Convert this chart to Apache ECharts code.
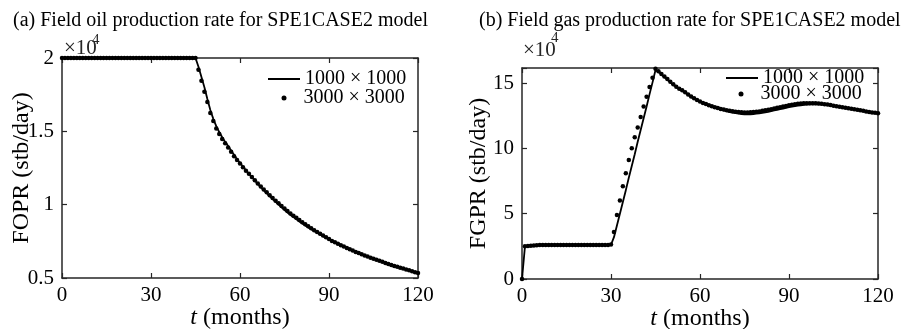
<!DOCTYPE html>
<html>
<head>
<meta charset="utf-8">
<script src="https://cdn.jsdelivr.net/npm/echarts@6/dist/echarts.min.js"></script>
<style>
  html, body { margin: 0; padding: 0; background: #fff; }
  #chart { width: 908px; height: 329px; }
</style>
</head>
<body>
<div id="chart"></div>
<script>
// monthly samples, t = 0..120 months, values in units of 1e4
const T_STEP = 1;
const xTicks = [0, 30, 60, 90, 120];
const seriesNames = ['1000 \u00d7 1000', '3000 \u00d7 3000'];

const fopr1000 = [
  2, 2, 2, 2, 2, 2, 2, 2, 2, 2, 2, 2, 2, 2, 2, 2, 2, 2, 2, 2,
  2, 2, 2, 2, 2, 2, 2, 2, 2, 2, 2, 2, 2, 2, 2, 2, 2, 2, 2, 2,
  2, 2, 2, 2, 2, 2, 1.94, 1.87, 1.80, 1.72, 1.645, 1.585, 1.535, 1.495, 1.46, 1.428,
  1.40, 1.37, 1.34, 1.31, 1.285, 1.26, 1.235, 1.21, 1.187, 1.164, 1.142, 1.12, 1.099, 1.078,
  1.058, 1.038, 1.019, 1.0, 0.982, 0.964, 0.947, 0.93, 0.915, 0.9, 0.886, 0.872, 0.858, 0.845,
  0.832, 0.82, 0.808, 0.796, 0.785, 0.774, 0.763, 0.753, 0.743, 0.733, 0.723, 0.714, 0.705, 0.696,
  0.687, 0.678, 0.67, 0.662, 0.654, 0.646, 0.638, 0.631, 0.624, 0.617, 0.61, 0.603, 0.596, 0.589,
  0.582, 0.576, 0.57, 0.564, 0.558, 0.552, 0.546, 0.54, 0.534
];

const fopr3000 = [
  2, 2, 2, 2, 2, 2, 2, 2, 2, 2, 2, 2, 2, 2, 2, 2, 2, 2, 2, 2,
  2, 2, 2, 2, 2, 2, 2, 2, 2, 2, 2, 2, 2, 2, 2, 2, 2, 2, 2, 2,
  2, 2, 2, 2, 2, 2, 1.92, 1.845, 1.77, 1.70, 1.625, 1.57, 1.52, 1.482, 1.448, 1.418,
  1.39, 1.36, 1.33, 1.305, 1.28, 1.255, 1.232, 1.21, 1.188, 1.166, 1.145, 1.124, 1.104, 1.084,
  1.065, 1.046, 1.027, 1.009, 0.991, 0.974, 0.957, 0.94, 0.925, 0.91, 0.895, 0.88, 0.866, 0.852,
  0.839, 0.826, 0.814, 0.802, 0.79, 0.778, 0.766, 0.753, 0.743, 0.733, 0.723, 0.714, 0.705, 0.696,
  0.687, 0.678, 0.67, 0.662, 0.654, 0.646, 0.638, 0.631, 0.624, 0.617, 0.61, 0.603, 0.596, 0.589,
  0.582, 0.576, 0.57, 0.564, 0.558, 0.552, 0.546, 0.54, 0.534
];

const fgpr1000 = [
  0, 2.5, 2.52, 2.54, 2.56, 2.58, 2.6, 2.6, 2.6, 2.6, 2.6, 2.6, 2.6, 2.6, 2.6, 2.6, 2.6, 2.6, 2.6, 2.6,
  2.6, 2.6, 2.6, 2.6, 2.6, 2.6, 2.6, 2.6, 2.6, 2.6, 2.62, 3.2, 4.1, 5.0, 5.9, 6.8, 7.75, 8.65, 9.55, 10.5,
  11.4, 12.3, 13.2, 14.15, 15.05, 16.0, 15.85, 15.65, 15.45, 15.25, 15.05, 14.85, 14.7, 14.55, 14.45, 14.3, 14.1, 13.95, 13.8, 13.68,
  13.57, 13.46, 13.36, 13.27, 13.18, 13.1, 13.03, 12.96, 12.9, 12.84, 12.78, 12.73, 12.69, 12.65, 12.62, 12.6, 12.6, 12.61, 12.63, 12.65,
  12.68, 12.72, 12.76, 12.8, 12.85, 12.9, 12.95, 13.0, 13.05, 13.1, 13.15, 13.19, 13.23, 13.27, 13.3, 13.32, 13.34, 13.36, 13.37, 13.37,
  13.37, 13.36, 13.34, 13.31, 13.28, 13.25, 13.21, 13.17, 13.13, 13.09, 13.05, 13.01, 12.97, 12.93, 12.89, 12.85, 12.81, 12.77, 12.74, 12.71,
  12.68
];

const fgpr3000 = [
  0, 2.5, 2.52, 2.54, 2.56, 2.58, 2.6, 2.6, 2.6, 2.6, 2.6, 2.6, 2.6, 2.6, 2.6, 2.6, 2.6, 2.6, 2.6, 2.6,
  2.6, 2.6, 2.6, 2.6, 2.6, 2.6, 2.6, 2.6, 2.6, 2.6, 2.65, 3.6, 4.9, 6.0, 7.1, 8.1, 9.1, 10.0, 10.85, 11.6,
  12.4, 13.2, 13.95, 14.7, 15.4, 16.1, 15.9, 15.7, 15.5, 15.3, 15.1, 14.9, 14.72, 14.56, 14.45, 14.3, 14.12, 13.97, 13.83, 13.7,
  13.58, 13.48, 13.39, 13.3, 13.22, 13.15, 13.08, 13.02, 12.97, 12.92, 12.88, 12.84, 12.81, 12.78, 12.76, 12.75, 12.75, 12.76, 12.78, 12.8,
  12.83, 12.87, 12.91, 12.95, 13.0, 13.05, 13.1, 13.15, 13.2, 13.25, 13.3, 13.34, 13.38, 13.41, 13.43, 13.45, 13.46, 13.46, 13.46, 13.45,
  13.43, 13.41, 13.38, 13.35, 13.31, 13.27, 13.23, 13.19, 13.15, 13.11, 13.07, 13.03, 12.99, 12.95, 12.91, 12.87, 12.83, 12.79, 12.75, 12.72,
  12.69
];

const FONT = '"Liberation Serif", "Times New Roman", serif';
const INK = '#262626';

const toPairs = (vals) => vals.map((v, i) => [i * T_STEP, v]);

const boxLine = { onZero: false, lineStyle: { color: INK, width: 1.5 } };
const boxTick = { inside: true, length: 5, lineStyle: { color: INK, width: 1.2 } };

const xAxisPair = (gridIndex) => [
  {
    gridIndex,
    type: 'value',
    position: 'bottom',
    min: xTicks[0],
    max: xTicks[xTicks.length - 1],
    interval: 30,
    name: '{i|t} (months)',
    nameLocation: 'middle',
    nameGap: 28,
    nameMoveOverlap: false,
    nameTextStyle: {
      fontFamily: FONT,
      fontSize: 24,
      color: '#000',
      rich: { i: { fontFamily: FONT, fontSize: 24, fontStyle: 'italic', color: '#000' } }
    },
    axisLine: boxLine,
    axisTick: boxTick,
    axisLabel: { fontFamily: FONT, fontSize: 21, color: '#000', margin: 7 },
    splitLine: { show: false }
  },
  {
    gridIndex,
    type: 'value',
    position: 'top',
    min: xTicks[0],
    max: xTicks[xTicks.length - 1],
    interval: 30,
    axisLine: boxLine,
    axisTick: boxTick,
    axisLabel: { show: false },
    splitLine: { show: false }
  }
];

const yAxisPair = (gridIndex, min, max, interval, name, gap) => [
  {
    gridIndex,
    type: 'value',
    position: 'left',
    min,
    max,
    interval,
    name,
    nameLocation: 'middle',
    nameGap: gap,
    nameMoveOverlap: false,
    nameTextStyle: { fontFamily: FONT, fontSize: 24, color: '#000' },
    axisLine: boxLine,
    axisTick: boxTick,
    axisLabel: {
      fontFamily: FONT,
      fontSize: 21,
      color: '#000',
      margin: 8,
      formatter: (v) => (Math.abs(v / interval - Math.round(v / interval)) < 1e-6 ? String(v) : '')
    },
    splitLine: { show: false }
  },
  {
    gridIndex,
    type: 'value',
    position: 'right',
    min,
    max,
    interval,
    axisLine: boxLine,
    axisTick: boxTick,
    axisLabel: { show: false },
    splitLine: { show: false }
  }
];

// one legend per row; dot rows use a small icon and pad the text to line up
const legendRow = (name, left, top, isLine) => ({
  data: [isLine ? { name, icon: 'rect' } : { name, icon: 'circle' }],
  left,
  top,
  padding: 0,
  orient: 'horizontal',
  itemWidth: isLine ? 32 : 5,
  itemHeight: isLine ? 2 : 5,
  itemGap: 0,
  selectedMode: false,
  textStyle: { fontFamily: FONT, fontSize: 20, color: '#000', padding: isLine ? 0 : [0, 0, 0, 12] },
  itemStyle: { color: '#000', opacity: 1 }
});

const lineSeries = (name, vals, xi, yi) => ({
  name,
  type: 'line',
  xAxisIndex: xi,
  yAxisIndex: yi,
  data: toPairs(vals),
  symbol: 'none',
  lineStyle: { color: '#000', width: 1.8 },
  itemStyle: { color: '#000' },
  z: 3
});

const dotSeries = (name, vals, xi, yi) => ({
  name,
  type: 'scatter',
  xAxisIndex: xi,
  yAxisIndex: yi,
  data: toPairs(vals),
  symbol: 'circle',
  symbolSize: 4.5,
  itemStyle: { color: '#000', opacity: 1 },
  z: 4
});

const chart = echarts.init(document.getElementById('chart'), null, { renderer: 'canvas' });

chart.setOption({
  animation: false,
  backgroundColor: '#fff',
  title: [
    {
      text: '(a) Field oil production rate for SPE1CASE2 model',
      left: 8,
      top: 6,
      textStyle: { fontFamily: FONT, fontSize: 20, fontWeight: 'normal', color: '#000' }
    },
    {
      text: '(b) Field gas production rate for SPE1CASE2 model',
      left: 474,
      top: 6,
      textStyle: { fontFamily: FONT, fontSize: 20, fontWeight: 'normal', color: '#000' }
    }
  ],
  grid: [
    { left: 62, right: 490, top: 58, bottom: 51, outerBoundsMode: 'none' },
    { left: 522, right: 30, top: 68, bottom: 50, outerBoundsMode: 'none' }
  ],
  xAxis: [...xAxisPair(0), ...xAxisPair(1)],
  yAxis: [
    ...yAxisPair(0, 0.5, 2, 0.5, 'FOPR (stb/day)', 28),
    ...yAxisPair(1, 0, 16.15, 5, 'FGPR (stb/day)', 31)
  ],
  legend: [
    legendRow(seriesNames[0], 268, 69, true),
    legendRow(seriesNames[1], 281.5, 88, false),
    legendRow(seriesNames[0], 726, 68, true),
    legendRow(seriesNames[1], 738.5, 84, false)
  ],
  graphic: [
    { type: 'text', left: 64, top: 38, style: { text: '\u00d710', fontFamily: FONT, fontSize: 21, fill: INK } },
    { type: 'text', left: 92, top: 33, style: { text: '4', fontFamily: FONT, fontSize: 15, fill: INK } },
    { type: 'text', left: 523, top: 40, style: { text: '\u00d710', fontFamily: FONT, fontSize: 21, fill: INK } },
    { type: 'text', left: 551, top: 31, style: { text: '4', fontFamily: FONT, fontSize: 15, fill: INK } }
  ],
  series: [
    lineSeries(seriesNames[0], fopr1000, 0, 0),
    dotSeries(seriesNames[1], fopr3000, 0, 0),
    lineSeries(seriesNames[0], fgpr1000, 2, 2),
    dotSeries(seriesNames[1], fgpr3000, 2, 2)
  ]
});
</script>
</body>
</html>
